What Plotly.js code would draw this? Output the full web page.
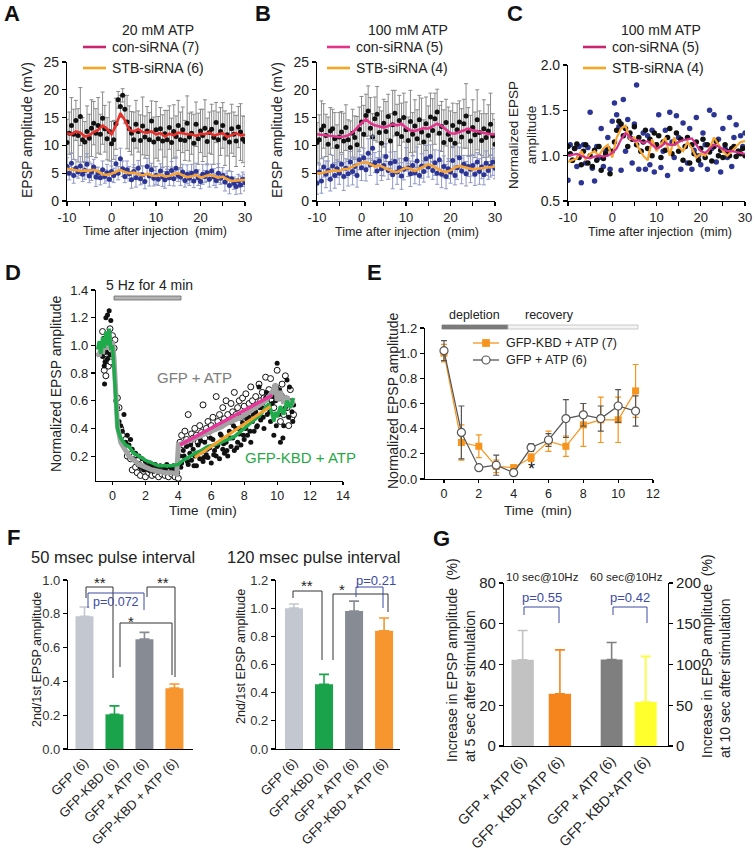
<!DOCTYPE html>
<html><head><meta charset="utf-8">
<script src="https://cdn.plot.ly/plotly-3.0.1.min.js"></script>
<style>html,body{margin:0;padding:0;background:#fff}#g{width:754px;height:853px}</style>
</head><body><div id="g"></div>
<script>
// ---------- DATA ----------
const tHalf=[-10,-9.5,-9,-8.5,-8,-7.5,-7,-6.5,-6,-5.5,-5,-4.5,-4,-3.5,-3,-2.5,-2,-1.5,-1,-0.5,0,0.5,1,1.5,2,2.5,3,3.5,4,4.5,5,5.5,6,6.5,7,7.5,8,8.5,9,9.5,10,10.5,11,11.5,12,12.5,13,13.5,14,14.5,15,15.5,16,16.5,17,17.5,18,18.5,19,19.5,20,20.5,21,21.5,22,22.5,23,23.5,24,24.5,25,25.5,26,26.5,27,27.5,28,28.5,29,29.5,30];
const tMin=[-10,-9,-8,-7,-6,-5,-4,-3,-2,-1,0,1,2,3,4,5,6,7,8,9,10,11,12,13,14,15,16,17,18,19,20,21,22,23,24,25,26,27,28,29,30];
const xTickVals=[-10,-5,0,5,10,15,20,25,30];
const xTickText=['-10','','0','','10','','20','','30'];

// Panel A (20 mM ATP)
const blackA=[10.5,12.2,13.6,12.0,14.5,11.8,15.2,11.0,10.6,12.5, 11.3,13.1,14.0,12.2,13.6,12.0,14.9,13.0,11.2,12.5, 10.3,11.0,13.9,18.2,17.0,19.0,16.5,14.2,13.0,12.2, 11.0,13.8,12.5,10.9,13.5,11.5,12.6,11.0,14.4,10.6, 12.8,11.2,13.0,10.8,12.1,11.0,13.2,10.5,12.5,11.6, 13.6,11.0,12.8,10.9,14.0,11.5,12.2,10.4,13.8,11.2, 12.6,11.8,13.1,10.7,12.3,12.9,11.4,14.1,11.0,12.5, 13.6,11.3,11.9,10.6,13.0,12.0,10.8,13.3,12.4,11.1, 10.7];
const blackErrA=[4.2,3.8,5.0,4.5,3.6,4.8,5.2,4.0,3.7,4.6, 4.3,5.1,3.9,4.4,5.0,3.6,4.7,4.2,3.8,5.3, 4.0,3.5,4.6,1.5,2.0,1.2,2.5,4.8,4.1,3.9, 5.0,4.3,3.7,4.6,5.2,3.8,4.4,4.9,3.6,4.5, 5.1,4.0,3.8,4.7,4.2,5.3,3.9,4.4,4.8,3.7, 4.5,5.0,4.1,3.6,4.9,4.3,3.8,5.2,4.0,4.6, 3.9,4.7,5.1,4.2,3.7,4.5,4.8,3.6,5.0,4.3, 4.1,4.9,3.8,5.2,4.4,4.0,4.6,3.7,5.1,4.2, 4.5];
const blueA=[6.2,5.0,6.8,4.6,5.9,5.2,6.3,4.8,5.5,6.6, 4.5,5.2,6.1,4.3,5.0,4.2,5.6,4.4,5.1,3.9, 5.3,4.6,6.7,5.0,7.6,5.8,4.4,5.6,4.9,3.8, 5.3,4.2,5.9,4.0,4.7,3.5,6.2,4.5,5.6,4.1, 4.6,3.9,5.4,4.3,3.8,5.0,4.2,5.5,4.0,5.9, 4.6,4.3,5.2,3.7,4.8,4.1,5.0,3.6,5.3,4.2, 3.5,4.8,4.4,5.1,3.9,5.4,4.3,3.7,5.0,4.1, 4.6,3.4,4.2,2.8,4.0,3.2,2.6,3.6,2.9,3.9, 3.3];
const blueErrA=[1.6,1.2,1.8,1.4,1.5,1.1,1.7,1.3,1.6,1.9, 1.2,1.5,1.4,1.7,1.1,1.3,1.6,1.2,1.5,1.4, 1.8,1.3,1.5,1.2,1.9,1.4,1.1,1.6,1.3,1.5, 1.2,1.7,1.4,1.1,1.6,1.3,1.5,1.8,1.2,1.4, 1.6,1.1,1.3,1.7,1.5,1.2,1.4,1.6,1.3,1.8, 1.1,1.5,1.4,1.2,1.7,1.3,1.6,1.2,1.5,1.4, 1.3,1.8,1.1,1.6,1.4,1.2,1.5,1.3,1.7,1.1, 1.4,1.6,1.2,1.5,1.3,1.1,1.4,1.2,1.6,1.3, 1.5];
const redA=[12.2,12.0,12.5,12.3,11.6,11.8,12.4,12.8,13.6,13.0, 12.0,13.6,15.8,14.5,12.8,12.5,12.9,12.4,12.3,12.5, 12.0,12.2,11.6,12.1,11.8,12.3,12.2,12.0,12.0,11.7, 12.1,12.0,12.3,11.8,12.0,12.2,11.5,11.9,12.2,11.8, 11.9];
const orangeA=[5.8,5.7,5.5,5.4,5.5,5.4,5.6,5.3,4.8,4.7, 4.9,5.2,5.6,5.2,5.0,5.1,4.8,4.6,4.9,4.6, 4.5,4.7,4.4,4.5,4.8,5.0,4.6,4.3,4.4,4.7, 4.2,4.4,4.7,4.5,4.2,4.4,3.9,3.6,3.7,3.8, 3.8];

// Panel B (100 mM ATP)
const blackB=[10.5,11.0,12.8,13.5,11.8,10.2,12.6,13.0,11.2,9.8, 11.5,12.4,10.8,13.2,11.0,9.6,12.2,11.4,10.1,12.9, 14.2,12.0,15.4,16.2,13.1,11.5,14.8,15.6,12.3,10.4, 14.0,12.5,15.2,10.8,13.7,15.8,12.1,14.5,11.6,15.0, 12.8,10.9,14.3,12.0,13.5,11.2,14.6,12.4,10.6,13.9, 11.8,15.1,12.7,14.8,16.0,12.2,13.4,10.5,14.1,12.0, 11.0,13.6,10.4,12.8,14.2,11.5,13.9,15.3,12.5,10.8, 13.2,11.9,14.6,12.3,10.9,13.0,11.4,12.6,13.8,11.7, 10.2];
const blackErrB=[3.6,4.5,5.2,4.0,3.8,4.9,4.2,3.5,4.7,3.9, 4.4,3.7,5.0,4.1,3.6,4.8,4.3,3.9,5.1,4.0, 4.6,5.2,3.8,4.5,5.5,4.2,3.9,5.0,4.6,5.8, 4.3,5.4,4.0,4.9,6.2,4.1,5.3,4.5,6.0,4.4, 5.0,4.2,5.6,3.9,4.7,5.2,4.4,6.1,4.0,4.8, 5.3,4.3,5.7,4.6,4.1,5.0,4.5,5.9,4.2,4.9, 5.2,4.0,5.5,4.7,3.8,5.1,4.4,5.8,4.3,4.6, 5.0,4.1,5.4,3.9,4.8,5.2,4.3,4.7,5.6,4.0, 4.5];
const blueB=[3.2,5.2,3.6,6.1,4.8,5.5,3.9,6.3,4.6,5.8, 5.0,6.6,4.4,5.9,4.9,7.0,5.3,6.2,4.6,7.4, 6.0,7.8,5.6,8.6,6.5,9.5,6.9,5.4,7.2,5.8, 6.4,8.0,5.5,6.8,4.7,7.1,5.2,6.0,4.5,5.7, 7.5,6.0,4.9,6.4,5.1,7.2,4.6,6.3,5.3,7.6, 6.1,8.0,5.5,6.9,5.0,7.4,4.8,6.2,4.4,5.8, 5.2,7.3,4.6,6.0,7.8,5.4,6.6,4.9,6.2,5.7, 6.4,4.8,7.0,5.3,6.1,4.7,6.8,5.5,6.3,7.0, 5.9];
const blueErrB=[2.0,1.6,2.2,1.8,2.4,1.7,2.1,1.9,2.3,1.6, 2.0,1.8,2.5,1.7,2.2,1.9,2.4,1.6,2.1,1.8, 2.3,1.7,2.0,2.6,1.9,2.2,1.8,2.4,1.7,2.1, 1.9,2.3,1.6,2.0,2.5,1.8,2.2,1.7,2.4,1.9, 2.1,1.6,2.3,1.8,2.0,2.5,1.7,2.2,1.9,2.4, 1.8,2.1,1.6,2.3,2.0,1.7,2.4,1.9,2.2,1.8, 2.0,2.5,1.7,2.1,1.9,2.3,1.6,2.2,1.8,2.4, 1.9,2.0,1.7,2.3,2.1,1.8,2.2,1.6,2.0,2.4, 1.9];
const pinkB=[12.0,11.9,11.8,11.6,11.5,11.5,11.6,11.8,12.3,13.2, 14.0,14.7,14.0,13.6,13.4,13.2,13.5,13.8,13.6,13.9, 13.2,12.7,12.6,12.9,13.1,13.0,13.4,13.9,13.5,12.8, 12.2,12.1,12.4,12.8,13.0,12.7,12.6,12.3,12.1,12.0, 12.0];
const orangeB=[5.0,5.0,5.2,5.3,5.5,5.4,5.7,5.8,6.2,6.5, 6.9,7.0,6.6,6.2,6.4,6.0,5.6,5.3,5.2,5.6, 6.0,5.8,5.4,5.8,6.2,6.6,6.3,5.8,5.4,5.2, 5.5,6.0,6.3,6.1,5.9,5.7,5.8,5.9,6.0,6.1, 6.2];

// Panel C (normalized, 100 mM ATP)
const blueC=[0.73,1.12,0.95,1.08,0.88,1.10,0.70,1.12,0.92,1.09, 1.48,0.86,0.72,1.10,0.98,1.30,0.88,1.05,1.20,0.85, 1.38,1.58,1.45,1.32,0.84,1.62,1.05,1.40,1.20,0.92, 1.35,1.78,0.85,1.05,1.25,0.85,1.22,0.90,1.28,0.82, 1.12,1.45,0.87,1.05,1.28,0.78,1.48,1.15,0.98,1.44, 1.20,0.85,1.36,1.10,0.92,1.30,0.85,1.06,1.42,1.00, 0.90,1.25,1.12,0.85,1.50,1.08,1.45,0.93,1.18,0.82, 1.30,1.08,0.98,1.42,0.88,1.20,1.34,1.05,1.22,1.10, 1.25];
const blackC=[1.10,1.02,0.95,1.08,1.13,0.98,0.90,1.05,1.12,0.92, 1.00,0.88,1.06,0.95,1.10,0.84,0.97,1.02,1.08,0.80, 1.05,1.15,1.28,1.38,1.35,1.22,1.30,1.10,1.25,1.18, 1.32,1.12,1.20,1.05,1.15,1.28,1.08,1.18,1.00,1.25, 1.12,1.22,0.98,1.15,1.06,1.20,1.30,1.02,1.14,1.25, 1.05,1.18,0.95,1.10,1.20,0.92,1.12,1.02,1.15,0.95, 1.08,1.18,0.98,1.12,1.04,0.94,1.10,1.16,1.00,1.06, 0.98,1.12,1.05,1.00,1.08,1.10,0.99,1.05,1.02,1.08, 1.00];
const pinkC=[1.00,1.01,1.02,1.00,0.98,0.97,0.99,1.00,0.99,1.00, 1.03,1.08,1.18,1.25,1.21,1.16,1.17,1.14,1.16,1.12, 1.08,1.10,1.14,1.12,1.12,1.15,1.17,1.18,1.19,1.12, 1.05,1.03,1.08,1.12,1.10,1.07,1.05,1.05,1.04,1.03, 1.02];
const orangeC=[0.93,0.95,0.97,1.05,0.96,1.02,1.05,1.00,1.08,1.12, 0.98,1.20,1.30,1.33,1.18,1.20,1.08,1.00,0.95,1.18, 1.05,1.12,1.20,1.00,1.20,1.10,1.05,1.15,1.08,0.98, 1.02,1.00,1.08,1.20,1.12,1.05,1.00,1.05,1.10,1.15, 1.16];

// Panel D
const tBlackD=[-0.6,-0.55,-0.5,-0.45,-0.4,-0.35,-0.3,-0.25,-0.2,-0.15,-0.1,-0.05,-0.48,0.0,-0.32,
 0.2,0.3,0.4,0.5,0.6,0.7,0.8,0.9,1.0,1.1,
 1.2,1.3,1.4,1.5,1.6,1.7,1.8,1.9,2.0,2.1,2.2,2.3,2.4,2.5,2.6,2.7,2.8,2.9,3.0,3.1,3.2,3.3,3.4,3.5,3.6,3.7,3.8,3.9,
 4.1,4.2,4.3,4.4,4.5,4.6,4.7,4.8,4.9,5.0,5.1,5.2,5.3,5.4,5.5,5.6,5.7,5.8,5.9,6.0,6.1,6.2,6.3,6.4,6.5,6.6,6.7,6.8,6.9,7.0,
 7.1,7.2,7.3,7.4,7.5,7.6,7.7,7.8,7.9,8.0,8.1,8.2,8.3,8.4,8.5,8.6,8.7,8.8,8.9,9.0,9.1,9.2,9.3,9.4,9.5,9.6,9.7,9.8,9.9,10.0,
 10.1,10.2,10.3,10.4,10.5,10.6,10.7,10.8,10.9,11.0,
 4.15,4.35,4.55,4.75,4.95,5.15,5.35,5.55,5.75,5.95,6.15,6.35,6.55,6.75,6.95,7.15,7.35,7.55,7.75,7.95,8.15,8.35,8.55,8.75,8.95,9.15,9.35,9.55,9.75,9.95,10.15,10.35,10.55,10.75,10.95];
const vBlackD=[0.92,1.05,0.85,0.88,1.2,0.95,1.22,1.0,1.25,0.93,1.18,1.02,0.72,0.93,0.9,
 0.6,0.55,0.45,0.42,0.38,0.5,0.3,0.35,0.28,0.32,
 0.25,0.18,0.22,0.15,0.2,0.12,0.18,0.1,0.16,0.13,0.1,0.15,0.12,0.09,0.14,0.11,0.1,0.13,0.09,0.12,0.1,0.14,0.08,0.12,0.1,0.13,0.11,0.09,
 0.2,0.15,0.24,0.18,0.27,0.14,0.22,0.17,0.25,0.2,0.13,0.28,0.18,0.23,0.16,0.3,0.21,0.19,0.26,0.15,0.32,0.24,0.2,0.28,0.18,0.35,0.25,0.22,0.3,0.2,
 0.38,0.27,0.33,0.24,0.4,0.3,0.36,0.28,0.44,0.32,0.4,0.35,0.48,0.3,0.45,0.38,0.52,0.42,0.7,0.46,0.55,0.4,0.62,0.5,0.65,0.45,0.58,0.35,0.6,0.87,
 0.5,0.3,0.64,0.42,0.55,0.75,0.48,0.6,0.52,0.57,
 0.12,0.2,0.16,0.28,0.13,0.22,0.31,0.19,0.25,0.33,0.21,0.27,0.36,0.29,0.24,0.33,0.42,0.26,0.39,0.35,0.47,0.38,0.5,0.41,0.55,0.48,0.66,0.52,0.63,0.42,0.68,0.33,0.62,0.7,0.45];
const tOpenD=[-0.6,-0.55,-0.5,-0.45,-0.4,-0.35,-0.3,-0.25,-0.2,-0.15,-0.1,0.0,0.1,0.15,
 0.3,0.4,0.5,0.6,0.7,0.8,0.9,1.0,
 1.1,1.2,1.3,1.4,1.5,1.6,1.7,1.8,1.9,2.0,2.1,2.2,2.3,2.4,2.5,2.6,2.7,2.8,2.9,3.0,3.1,3.2,3.3,3.4,3.5,3.6,3.7,3.8,3.9,4.0,
 4.1,4.2,4.3,4.4,4.5,4.6,4.7,4.8,4.9,5.0,5.1,5.2,5.3,5.4,5.5,5.6,5.7,5.8,5.9,6.0,6.1,6.2,6.3,6.4,6.5,6.6,6.7,6.8,6.9,7.0,
 7.1,7.2,7.3,7.4,7.5,7.6,7.7,7.8,7.9,8.0,8.1,8.2,8.3,8.4,8.5,8.6,8.7,8.8,8.9,9.0,9.1,9.2,9.3,9.4,9.5,9.6,9.7,9.8,9.9,10.0,
 10.1,10.2,10.3,10.4,10.5,10.6,10.7,10.8,10.9,11.0];
const vOpenD=[1.1,0.95,0.82,1.0,0.78,0.9,1.05,0.85,0.97,1.12,0.88,1.07,0.98,1.04,
 0.62,0.55,0.4,0.35,0.28,0.32,0.2,0.25,
 0.18,0.1,0.2,0.12,0.08,0.14,0.06,0.11,0.09,0.05,0.12,0.08,0.1,0.06,0.13,0.07,0.1,0.05,0.09,0.07,0.11,0.06,0.08,0.05,0.1,0.07,0.09,0.05,0.08,0.04,
 0.3,0.35,0.28,0.38,0.32,0.5,0.3,0.36,0.33,0.4,0.35,0.3,0.42,0.37,0.57,0.33,0.4,0.45,0.38,0.42,0.48,0.4,0.63,0.45,0.5,0.42,0.55,0.47,0.6,0.5,
 0.45,0.58,0.52,0.66,0.5,0.55,0.6,0.48,0.62,0.56,0.65,0.52,0.58,0.7,0.6,0.55,0.63,0.57,0.72,0.6,0.66,0.62,0.77,0.58,0.68,0.76,0.6,0.55,0.7,0.82,
 0.62,0.45,0.72,0.5,0.78,0.55,0.42,0.68,0.48,0.5];
const tGrayD=[-0.9,-0.8,-0.7,-0.6,-0.5,-0.4,-0.3,-0.2,-0.1,0.0,0.1,0.2,0.3,0.5,0.8,1.0,1.3,1.6,2.0,2.4,2.8,3.2,3.6,3.9,4.0,4.3,4.6,5.0,5.4,5.8,6.2,6.6,7.0,7.4,7.8,8.2,8.6,9.0,9.3,9.5,9.7,9.9,10.0,10.2,10.4,10.6,10.8,11.0];
const vGrayD=[0.95,0.92,1.0,0.94,1.05,0.97,1.02,1.08,0.96,1.03,0.9,0.65,0.42,0.3,0.24,0.2,0.17,0.14,0.12,0.1,0.09,0.08,0.08,0.07,0.28,0.3,0.31,0.33,0.35,0.37,0.39,0.41,0.44,0.46,0.48,0.51,0.54,0.57,0.6,0.63,0.66,0.72,0.6,0.67,0.58,0.63,0.56,0.6];
const tGreenD=[-0.9,-0.8,-0.7,-0.6,-0.5,-0.4,-0.3,-0.2,-0.1,0.0,0.1,0.2,0.3,0.5,0.8,1.0,1.3,1.6,2.0,2.4,2.8,3.2,3.6,4.0,4.3,4.6,5.0,5.4,5.8,6.2,6.6,7.0,7.4,7.8,8.2,8.6,9.0,9.3,9.5,9.7,9.8,9.9,10.0,10.2,10.4,10.6,10.8,11.0];
const vGreenD=[0.97,1.03,0.94,1.06,0.98,1.1,1.0,1.12,0.97,1.0,0.82,0.6,0.4,0.33,0.28,0.27,0.22,0.2,0.17,0.15,0.13,0.13,0.13,0.14,0.17,0.19,0.22,0.24,0.27,0.28,0.3,0.32,0.34,0.38,0.42,0.46,0.5,0.55,0.58,0.5,0.45,0.52,0.48,0.56,0.5,0.6,0.55,0.62];
const tPinkFitD=[4.1,9.7], vPinkFitD=[0.28,0.64];
const tOrangeFitD=[5.0,9.6], vOrangeFitD=[0.19,0.56];

// Panel E
const tE=[0,1,2,3,4,5,6,7,8,9,10,11];
const kbdE=[1.0,0.29,0.26,0.10,0.09,0.17,0.30,0.26,0.43,0.47,0.47,0.70];
const kbdErrE=[0.07,0.14,0.09,0.05,0.02,0.03,0.08,0.08,0.17,0.18,0.18,0.21];
const gfpE=[1.02,0.37,0.09,0.11,0.05,0.25,0.31,0.48,0.51,0.48,0.58,0.54];
const gfpErrE=[0.08,0.21,0.02,0.08,0.02,0.03,0.05,0.15,0.09,0.10,0.13,0.12];

// Panel F
const fCats=['GFP (6)','GFP-KBD (6)','GFP + ATP (6)','GFP-KBD + ATP (6)'];
const f50=[0.785,0.205,0.65,0.36];
const f50Err=[0.055,0.05,0.04,0.025];
const f120=[1.0,0.46,0.98,0.84];
const f120Err=[0.03,0.07,0.07,0.09];
const fColors=['#c3c7cf','#1aa34a','#878c94','#f7962f'];

// Panel G
const gCatsL=['GFP + ATP (6)','GFP- KBD+ ATP (6)'];
const gValsL=[42.3,25.6];
const gErrL=[14.4,21.6];
const gCatsR=['GFP + ATP (6)','GFP- KBD+ATP (6)'];
const gValsR=[106,54];
const gErrR=[21,56];
const gColorsL=['#c2c2c2','#f7851e'];
const gColorsR=['#7f7f7f','#ffff2e'];

// ---------- LAYOUT HELPERS ----------
const W=754,H=853;
const dX=(a,b)=>[a/W,b/W];
const dY=(t,b)=>[1-b/H,1-t/H];
const px=x=>x/W, py=y=>1-y/H;
function ax(o){return Object.assign({showline:true,linecolor:'#000',linewidth:1.1,ticks:'outside',ticklen:4,tickwidth:1.1,tickcolor:'#000',showgrid:false,zeroline:false,fixedrange:true,tickfont:{size:13,color:'#222'}},o);}

const traces=[];
function errScatter(x,y,e,mcol,ecol,xa,ya,size){
  traces.push({x:x,y:y,type:'scatter',mode:'markers',xaxis:xa,yaxis:ya,hoverinfo:'skip',
    marker:{color:mcol,size:size||5},error_y:{type:'data',array:e,visible:true,color:ecol,thickness:1,width:2}});
}
function line(x,y,col,w,xa,ya){traces.push({x:x,y:y,type:'scatter',mode:'lines',xaxis:xa,yaxis:ya,line:{color:col,width:w},hoverinfo:'skip'});}
function dots(x,y,col,xa,ya,size,open){
  traces.push({x:x,y:y,type:'scatter',mode:'markers',xaxis:xa,yaxis:ya,hoverinfo:'skip',
   marker:open?{color:'#fff',size:size,line:{color:'#111',width:1}}:{color:col,size:size}});
}
// A
errScatter(tHalf,blackA,blackErrA,'#111','#8a8a8a','x','y');
errScatter(tHalf,blueA,blueErrA,'#2c3594','#8f98c8','x','y');
line(tMin,redA,'#e8312a',2.6,'x','y');
line(tMin,orangeA,'#f7a234',2.6,'x','y');
// B
errScatter(tHalf,blackB,blackErrB,'#111','#8a8a8a','x2','y2');
errScatter(tHalf,blueB,blueErrB,'#2c3594','#8f98c8','x2','y2');
line(tMin,pinkB,'#e2368c',2.6,'x2','y2');
line(tMin,orangeB,'#f7a234',2.6,'x2','y2');
// C
dots(tHalf,blueC,'#2c3594','x3','y3',5.5);
dots(tHalf,blackC,'#111','x3','y3',5.5);
line(tMin,orangeC,'#f7a52f',2.2,'x3','y3');
line(tMin,pinkC,'#d8338c',2.2,'x3','y3');
// D
dots(tOpenD,vOpenD,'#fff','x4','y4',6,true);
dots(tBlackD,vBlackD,'#111','x4','y4',5);
line(tGrayD,vGrayD,'#a3a3a3',5,'x4','y4');
line(tGreenD,vGreenD,'#1faa4c',3.5,'x4','y4');
line(tPinkFitD,vPinkFitD,'#e8379b',3.5,'x4','y4');
line(tOrangeFitD,vOrangeFitD,'#f5a02a',3,'x4','y4');
// E
traces.push({x:tE,y:kbdE,type:'scatter',mode:'lines+markers',xaxis:'x5',yaxis:'y5',hoverinfo:'skip',cliponaxis:false,
  line:{color:'#f7941d',width:1.2},marker:{symbol:'square',size:7,color:'#f7941d'},
  error_y:{type:'data',array:kbdErrE,color:'#f7941d',thickness:1.2,width:3}});
traces.push({x:tE,y:gfpE,type:'scatter',mode:'lines+markers',xaxis:'x5',yaxis:'y5',hoverinfo:'skip',cliponaxis:false,
  line:{color:'#555',width:1.2},marker:{symbol:'circle',size:8,color:'#fff',line:{color:'#555',width:1.2}},
  error_y:{type:'data',array:gfpErrE,color:'#555',thickness:1.2,width:3}});
// F, G bars
function bars(cats,vals,errs,cols,xa,ya,w){
  for(let i=0;i<cats.length;i++){
    traces.push({x:[cats[i]],y:[vals[i]],type:'bar',xaxis:xa,yaxis:ya,width:w,hoverinfo:'skip',
      marker:{color:cols[i],line:{width:0}},
      error_y:{type:'data',symmetric:false,array:[errs[i]],arrayminus:[0],color:cols[i],thickness:1.6,width:5}});
  }
}
bars(fCats,f50,f50Err,fColors,'x6','y6',0.6);
bars(fCats,f120,f120Err,fColors,'x7','y7',0.6);
bars(gCatsL,gValsL,gErrL,gColorsL,'x8','y8',0.6);
bars(gCatsR,gValsR,gErrR,gColorsR,'x9','y9',0.64);

// ---------- ANNOTATIONS ----------
const ann=[];
function T(text,x,y,o){ann.push(Object.assign({text:text,x:px(x),y:py(y),xref:'paper',yref:'paper',showarrow:false,xanchor:'center',yanchor:'middle',font:{size:13,color:'#222'}},o||{}));}
const big={font:{size:22,color:'#111',family:'Liberation Sans, Arial, sans-serif'}};
T('<b>A</b>',12,13,big);T('<b>B</b>',263,13,big);T('<b>C</b>',515,13,big);
T('<b>D</b>',13,272,big);T('<b>E</b>',374,272,big);T('<b>F</b>',13,537,big);T('<b>G</b>',441,538,big);
// A-C titles/legends
T('20 mM ATP',158,30,{font:{size:14,color:'#222'}});
T('con-siRNA (7)',110,47,{xanchor:'left',font:{size:14,color:'#222'}});
T('STB-siRNA (6)',110,68,{xanchor:'left',font:{size:14,color:'#222'}});
T('100 mM ATP',408,30,{font:{size:14,color:'#222'}});
T('con-siRNA (5)',354,47,{xanchor:'left',font:{size:14,color:'#222'}});
T('STB-siRNA (4)',354,68,{xanchor:'left',font:{size:14,color:'#222'}});
T('100 mM ATP',661,30,{font:{size:14,color:'#222'}});
T('con-siRNA (5)',610,47,{xanchor:'left',font:{size:14,color:'#222'}});
T('STB-siRNA (4)',610,68,{xanchor:'left',font:{size:14,color:'#222'}});
T('EPSP amplitude (mV)',27,130,{textangle:-90,font:{size:14,color:'#222'}});
T('EPSP amplitude (mV)',277,130,{textangle:-90,font:{size:14,color:'#222'}});
T('Normalized EPSP<br>amplitude',522,135,{textangle:-90,font:{size:13.5,color:'#222'}});
T('Time after injection  (mim)',155,231,{font:{size:12.5,color:'#222'}});
T('Time after injection  (mim)',407,232,{font:{size:12.5,color:'#222'}});
T('Time after injection  (mim)',660,232,{font:{size:12.5,color:'#222'}});
// D
T('5 Hz for 4 min',149,285,{font:{size:14,color:'#222'}});
T('GFP + ATP',194,377,{font:{size:15,color:'#7d7d7d'}});
T('GFP-KBD + ATP',300,458,{font:{size:15,color:'#27a845'}});
T('Normalized EPSP amplitude',56,384,{textangle:-90,font:{size:14,color:'#222'}});
T('Time  (min)',203,510,{font:{size:13.5,color:'#222'}});
// E
T('depletion',474,315,{font:{size:12.5,color:'#222'}});
T('recovery',549,315,{font:{size:12.5,color:'#222'}});
T('GFP-KBD + ATP (7)',504,343,{xanchor:'left',font:{size:12.5,color:'#222'}});
T('GFP + ATP (6)',504,360,{xanchor:'left',font:{size:12.5,color:'#222'}});
T('*',531,469,{font:{size:18,color:'#111'}});
T('Normalized EPSP amplitude',393,401,{textangle:-90,font:{size:14,color:'#222'}});
T('Time  (min)',538,510,{font:{size:13.5,color:'#222'}});
// F
T('50 msec pulse interval',113,557,{font:{size:16.5,color:'#222'}});
T('120 msec pulse interval',313,557,{font:{size:16.5,color:'#222'}});
T('2nd/1st EPSP amplitude',37,660,{textangle:-90,font:{size:12.5,color:'#222'}});
T('2nd/1st EPSP amplitude',241,657,{textangle:-90,font:{size:12.5,color:'#222'}});
const blue='#3c4aa3';
T('**',100,582,{font:{size:15,color:'#222'}});
T('**',163,582,{font:{size:15,color:'#222'}});
T('*',131,621,{font:{size:15,color:'#222'}});
T('p=0.072',116,602,{font:{size:12.5,color:blue}});
T('**',307,585,{font:{size:15,color:'#222'}});
T('*',342,589,{font:{size:15,color:'#222'}});
T('p=0.21',376,580,{font:{size:13,color:blue}});
// G
T('10 sec@10Hz',542,577,{font:{size:11.5,color:'#222'}});
T('60 sec@10Hz',626,577,{font:{size:11.5,color:'#222'}});
T('p=0.55',542,597,{font:{size:13,color:blue}});
T('p=0.42',630,597,{font:{size:13,color:blue}});
T('Increase in EPSP amplitude  (%)<br>at 5 sec after stimulation',461,660,{textangle:-90,align:'left',font:{size:14,color:'#222'}});
T('Increase in EPSP amplitude  (%)<br>at 10 sec after stimulation',716,656,{textangle:-90,align:'left',font:{size:14,color:'#222'}});

// ---------- SHAPES ----------
const shapes=[];
function L(x0,y0,x1,y1,col,w){shapes.push({type:'line',xref:'paper',yref:'paper',x0:px(x0),y0:py(y0),x1:px(x1),y1:py(y1),line:{color:col,width:w}});}
function R(x0,y0,x1,y1,fill,lc){shapes.push({type:'rect',xref:'paper',yref:'paper',x0:px(x0),y0:py(y0),x1:px(x1),y1:py(y1),fillcolor:fill,line:{color:lc,width:0.8}});}
function Br(xa,ya,xb,yTop,yb,col){
  shapes.push({type:'path',xref:'paper',yref:'paper',path:'M '+px(xa)+' '+py(ya)+' L '+px(xa)+' '+py(yTop)+' L '+px(xb)+' '+py(yTop)+' L '+px(xb)+' '+py(yb),line:{color:col,width:1}});
}
// legends A-C
L(83,47,106,47,'#c8266e',2.6);L(83,68,106,68,'#f5a623',2.6);
L(327,47,350,47,'#e0358a',2.6);L(327,68,350,68,'#f5a623',2.6);
L(583,47,606,47,'#c8266e',2.6);L(583,68,606,68,'#f5a623',2.6);
// D bar
R(114,296,181,300,'#b5b5b5','#6a6a6a');
// E bars and legend
R(442,325,508,329,'#7a7a7a','#7a7a7a');
R(508,325,638,329,'#f4f4f4','#bdbdbd');
L(473,343,499,343,'#f7941d',1.3);
R(482.5,339.5,489.5,346.5,'#f7941d','#f7941d');
L(473,360,499,360,'#555',1.3);
shapes.push({type:'circle',xref:'paper',yref:'paper',x0:px(482),y0:py(364),x1:px(490),y1:py(356),fillcolor:'#fff',line:{color:'#555',width:1.2}});
// F brackets
Br(86,598,113,587,678,'#333');
Br(88,608,144,593,610,blue);
Br(147,597,175,587,677,'#333');
Br(120,667,172,623,675,'#333');
Br(293,598,322,591,660,'#333');
Br(333,660,388,594,612,'#333');
Br(356,597,383,587,608,blue);
// G brackets
Br(524,615,559,607,623,blue);
Br(613,615,647,607,623,blue);

const layout={
  width:W,height:H,margin:{l:0,r:0,t:0,b:0},paper_bgcolor:'#fff',plot_bgcolor:'rgba(0,0,0,0)',
  showlegend:false,barmode:'overlay',
  font:{family:'Liberation Sans, Arial, sans-serif',color:'#222',size:13},
  xaxis: ax({domain:dX(67,245),range:[-10,30],anchor:'y',tickvals:xTickVals,ticktext:xTickText}),
  yaxis: ax({domain:dY(62,201),range:[0,25],anchor:'x',tickvals:[0,5,10,15,20,25],tickfont:{size:14,color:'#222'}}),
  xaxis2:ax({domain:dX(317,495),range:[-10,30],anchor:'y2',tickvals:xTickVals,ticktext:xTickText}),
  yaxis2:ax({domain:dY(62,201),range:[0,25],anchor:'x2',tickvals:[0,5,10,15,20,25],tickfont:{size:14,color:'#222'}}),
  xaxis3:ax({domain:dX(568,745),range:[-10,30],anchor:'y3',tickvals:xTickVals,ticktext:xTickText}),
  yaxis3:ax({domain:dY(65,201),range:[0.5,2.0],anchor:'x3',tickvals:[0.5,1.0,1.5,2.0],tickformat:'.1f',tickfont:{size:14,color:'#222'}}),
  xaxis4:ax({domain:dX(96,343),range:[-1,14],anchor:'y4',ticklen:3,tickvals:[0,2,4,6,8,10,12,14],tickfont:{size:12.5,color:'#222'}}),
  yaxis4:ax({domain:dY(290,481),range:[0.02,1.4],anchor:'x4',tickvals:[0.2,0.4,0.6,0.8,1.0,1.2,1.4],tickformat:'.1f',tickfont:{size:13,color:'#222'}}),
  xaxis5:ax({domain:dX(425,653),range:[-1.09,12],anchor:'y5',ticklen:3,tickvals:[0,2,4,6,8,10,12],tickfont:{size:12.5,color:'#222'}}),
  yaxis5:ax({domain:dY(328,479),range:[0,1.2],anchor:'x5',tickvals:[0,0.2,0.4,0.6,0.8,1.0,1.2],tickformat:'.1f',tickfont:{size:13,color:'#222'}}),
  xaxis6:ax({domain:dX(68,193),type:'category',range:[-0.55,3.62],anchor:'y6',ticks:'',tickangle:-45,tickfont:{size:13,color:'#222'}}),
  yaxis6:ax({domain:dY(580,749),range:[0,1.0],anchor:'x6',dtick:0.2,tick0:0,tickformat:'.1f',tickfont:{size:13,color:'#333'}}),
  xaxis7:ax({domain:dX(276,400),type:'category',range:[-0.6,3.53],anchor:'y7',ticks:'',tickangle:-45,tickfont:{size:13,color:'#222'}}),
  yaxis7:ax({domain:dY(580,749),range:[0,1.2],anchor:'x7',dtick:0.2,tick0:0,tickformat:'.1f',tickfont:{size:13,color:'#333'}}),
  xaxis8:ax({domain:dX(504,586),type:'category',range:[-0.5,1.7],anchor:'y8',ticks:'',tickangle:-45,tickfont:{size:14,color:'#222'}}),
  yaxis8:ax({domain:dY(583,746),range:[0,80],anchor:'x8',dtick:20,tick0:0,tickfont:{size:15,color:'#222'}}),
  xaxis9:ax({domain:dX(586,668),type:'category',range:[-0.75,1.65],anchor:'y9',ticks:'',tickangle:-45,tickfont:{size:14,color:'#222'}}),
  yaxis9:ax({domain:dY(583,746),range:[0,200],anchor:'x9',side:'right',dtick:50,tick0:0,tickfont:{size:15,color:'#222'}}),
  annotations:ann,shapes:shapes
};
Plotly.newPlot('g',traces,layout,{staticPlot:true,displayModeBar:false});
</script></body></html>
